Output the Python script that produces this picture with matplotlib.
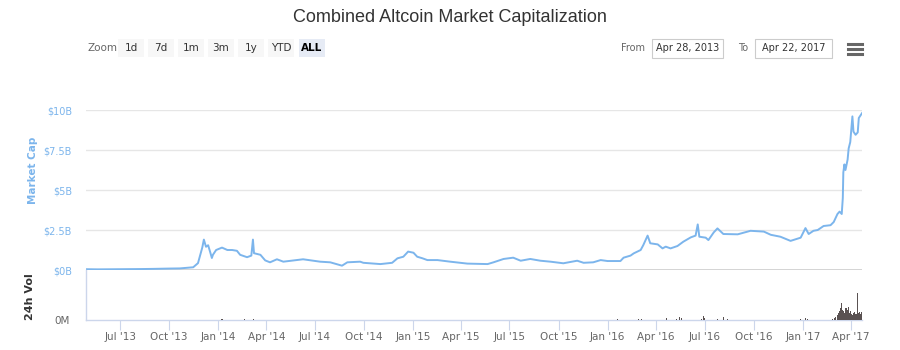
import matplotlib
matplotlib.use("Agg")
import matplotlib.pyplot as plt
from matplotlib.patches import Rectangle
import pandas as pd

# ---------------- data ----------------
cap_dates = [
    "2013-04-28", "2013-05-20", "2013-07-01", "2013-08-10", "2013-09-01", "2013-10-01",
    "2013-10-21", "2013-11-15", "2013-11-24", "2013-12-02", "2013-12-05", "2013-12-09",
    "2013-12-13", "2013-12-17", "2013-12-20", "2013-12-22", "2013-12-28", "2014-01-08",
    "2014-01-18", "2014-01-27", "2014-02-05", "2014-02-11", "2014-02-24", "2014-03-04",
    "2014-03-07", "2014-03-09", "2014-03-21", "2014-03-30", "2014-04-08", "2014-04-21",
    "2014-05-03", "2014-06-09", "2014-07-11", "2014-07-30", "2014-08-21", "2014-08-31",
    "2014-09-24", "2014-09-30", "2014-11-01", "2014-11-23", "2014-12-03", "2014-12-14",
    "2014-12-23", "2015-01-02", "2015-01-09", "2015-01-19", "2015-01-28", "2015-02-16",
    "2015-03-12", "2015-04-13", "2015-05-21", "2015-06-01", "2015-06-20", "2015-07-08",
    "2015-07-22", "2015-08-09", "2015-08-28", "2015-09-16", "2015-10-10", "2015-11-05",
    "2015-11-17", "2015-12-05", "2015-12-19", "2016-01-01", "2016-01-25", "2016-01-31",
    "2016-02-13", "2016-02-19", "2016-03-03", "2016-03-08", "2016-03-16", "2016-03-21",
    "2016-04-04", "2016-04-13", "2016-04-19", "2016-04-28", "2016-05-11", "2016-05-22",
    "2016-06-05", "2016-06-14", "2016-06-18", "2016-06-21", "2016-07-03", "2016-07-08",
    "2016-07-18", "2016-07-25", "2016-08-05", "2016-09-01", "2016-09-25", "2016-10-20",
    "2016-11-02", "2016-11-20", "2016-12-09", "2016-12-28", "2017-01-06", "2017-01-12",
    "2017-01-21", "2017-01-29", "2017-02-09", "2017-02-22", "2017-02-28", "2017-03-07",
    "2017-03-11", "2017-03-15", "2017-03-17", "2017-03-18", "2017-03-20", "2017-03-22",
    "2017-03-26", "2017-03-28", "2017-03-31", "2017-04-04", "2017-04-06", "2017-04-10",
    "2017-04-14", "2017-04-16", "2017-04-21", "2017-04-22",
]
cap_values = [  # billions USD
    0.05, 0.04, 0.05, 0.06, 0.07, 0.09,
    0.10, 0.17, 0.43, 1.40, 1.90, 1.45,
    1.55, 1.10, 0.75, 0.95, 1.25, 1.40,
    1.25, 1.25, 1.20, 0.95, 0.80, 0.90,
    1.90, 1.05, 0.95, 0.60, 0.48, 0.67,
    0.52, 0.67, 0.52, 0.48, 0.27, 0.48,
    0.52, 0.45, 0.37, 0.45, 0.73, 0.83,
    1.15, 1.08, 0.83, 0.73, 0.62, 0.62,
    0.52, 0.40, 0.37, 0.48, 0.69, 0.77,
    0.58, 0.69, 0.58, 0.52, 0.42, 0.58,
    0.45, 0.48, 0.62, 0.56, 0.56, 0.77,
    0.90, 1.04, 1.25, 1.56, 2.15, 1.67,
    1.60, 1.35, 1.46, 1.35, 1.50, 1.77,
    2.04, 2.15, 2.85, 2.08, 2.02, 1.87,
    2.35, 2.60, 2.25, 2.23, 2.45, 2.40,
    2.20, 2.08, 1.82, 2.02, 2.62, 2.25,
    2.45, 2.50, 2.75, 2.80, 3.00, 3.50,
    3.65, 3.50, 4.50, 6.10, 6.60, 6.25,
    6.90, 7.60, 8.00, 9.60, 8.65, 8.45,
    8.60, 9.50, 9.75, 9.80,
]

vol_dates = [
    "2014-01-08", "2014-02-20", "2014-03-08", "2016-01-20", "2016-02-28", "2016-03-05",
    "2016-04-20", "2016-05-10", "2016-05-14", "2016-05-18", "2016-06-25", "2016-06-28",
    "2016-07-01", "2016-07-25", "2016-08-05", "2016-08-12", "2016-12-28", "2017-01-06",
    "2017-01-10", "2017-02-25", "2017-03-01", "2017-03-04", "2017-03-07", "2017-03-09",
    "2017-03-11", "2017-03-13", "2017-03-15", "2017-03-17", "2017-03-19", "2017-03-21",
    "2017-03-23", "2017-03-25", "2017-03-27", "2017-03-29", "2017-03-31", "2017-04-02",
    "2017-04-04", "2017-04-06", "2017-04-08", "2017-04-10", "2017-04-12", "2017-04-14",
    "2017-04-16", "2017-04-18", "2017-04-20", "2017-04-22",
]
vol_values = [  # millions USD
    30, 25, 30, 40, 40, 50,
    80, 60, 140, 90, 60, 160,
    80, 50, 130, 60, 50, 80,
    60, 40, 80, 120, 200, 300,
    360, 500, 680, 420, 360, 300,
    480, 400, 520, 300, 360, 240,
    200, 300, 320, 260, 240, 1080,
    280, 320, 260, 320,
]

y_ticks = [0, 2.5, 5, 7.5, 10]
y_labels = ["$0B", "$2.5B", "$5B", "$7.5B", "$10B"]
x_tick_dates = ["2013-07-01", "2013-10-01", "2014-01-01", "2014-04-01", "2014-07-01",
                "2014-10-01", "2015-01-01", "2015-04-01", "2015-07-01", "2015-10-01",
                "2016-01-01", "2016-04-01", "2016-07-01", "2016-10-01", "2017-01-01",
                "2017-04-01"]
x_tick_labels = ["Jul '13", "Oct '13", "Jan '14", "Apr '14", "Jul '14", "Oct '14",
                 "Jan '15", "Apr '15", "Jul '15", "Oct '15", "Jan '16", "Apr '16",
                 "Jul '16", "Oct '16", "Jan '17", "Apr '17"]
zoom_buttons = ["1d", "7d", "1m", "3m", "1y", "YTD", "ALL"]
range_from = "Apr 28, 2013"
range_to = "Apr 22, 2017"

# ---------------- figure ----------------
W, H = 900, 350
plt.rcParams['font.family'] = ['DejaVu Sans']
fig = plt.figure(figsize=(9, 3.5), dpi=100)

def fx(px):
    return px / W

def fy(py):
    return 1 - py / H

LINE = "#7cb5ec"
GRID = "#e6e6e6"
AXIS = "#ccd6eb"

xmin = pd.Timestamp("2013-04-28")
xmax = pd.Timestamp("2017-04-22")
left, right = 86, 862

# upper panel
ax1 = fig.add_axes([fx(left), fy(270), fx(right - left), (270 - 110) / H])
d = pd.to_datetime(cap_dates)
ax1.plot(d, cap_values, color=LINE, lw=1.4, solid_joinstyle="round", zorder=3)
ax1.set_xlim(xmin, xmax)
ax1.set_ylim(0, 10)
ax1.set_yticks(y_ticks)
ax1.set_yticklabels(y_labels, color=LINE, fontsize=7)
ax1.tick_params(axis="y", length=0, pad=10)
ax1.tick_params(axis="x", length=0, labelbottom=False)
for yv in y_ticks[1:]:
    ax1.axhline(yv, color=GRID, lw=1, zorder=1)
for s in ax1.spines.values():
    s.set_visible(False)
ax1.set_facecolor("none")
ax1.axhline(0, color="#c8c8c8", lw=1.8, zorder=2)

# lower panel
vmax = 2000
ax2 = fig.add_axes([fx(left), fy(320), fx(right - left), 50 / H])
vd = pd.to_datetime(vol_dates)
ax2.bar(vd, vol_values, width=2.0, color="#5a5252", linewidth=0, zorder=3)
ax2.set_xlim(xmin, xmax)
ax2.set_ylim(0, vmax)
ax2.set_yticks([0])
ax2.set_yticklabels(["0M"], color="#666666", fontsize=7.5)
ax2.tick_params(axis="y", length=0, pad=12)
for k in ["top", "right"]:
    ax2.spines[k].set_visible(False)
ax2.spines["left"].set_color(AXIS)
ax2.spines["bottom"].set_color(AXIS)
ax2.spines["left"].set_linewidth(1)
ax2.spines["bottom"].set_linewidth(1)
ax2.set_xticks(pd.to_datetime(x_tick_dates))
ax2.set_xticklabels(x_tick_labels, color="#666666", fontsize=7.5)
ax2.tick_params(axis="x", length=7, color=AXIS, pad=2)
ax2.set_facecolor("none")

# axis titles
fig.text(fx(33), fy(170), "Market Cap", rotation=90, color=LINE, fontsize=7.5,
         fontweight="bold", ha="center", va="center")
fig.text(fx(30), fy(297), "24h Vol", rotation=90, color="#333333", fontsize=8,
         fontweight="bold", ha="center", va="center")

# title
fig.text(0.5, fy(17), "Combined Altcoin Market Capitalization", ha="center", va="center",
         fontsize=13, color="#333333", family="Liberation Sans")

# range selector
fig.text(fx(88), fy(48), "Zoom", color="#666666", fontsize=7.5, va="center", ha="left")
btn_x = [130, 160, 190, 220, 250, 280, 311]
for lbl, bx in zip(zoom_buttons, btn_x):
    sel = lbl == "ALL"
    fig.patches.append(Rectangle((fx(bx - 12), fy(57)), fx(26), 18 / H,
                                 transform=fig.transFigure,
                                 facecolor="#e6ebf5" if sel else "#f7f7f7",
                                 edgecolor="none"))
    fig.text(fx(bx + 1), fy(48), lbl, color="#000000" if sel else "#333333",
             fontsize=7.5, fontweight="bold" if sel else "normal", va="center", ha="center")

fig.text(fx(621), fy(48), "From", color="#666666", fontsize=7, va="center", ha="left")
fig.patches.append(Rectangle((fx(652), fy(58)), fx(71), 19 / H, transform=fig.transFigure,
                             facecolor="white", edgecolor="#cccccc", lw=0.8))
fig.text(fx(687.5), fy(48), range_from, color="#333333", fontsize=7, va="center", ha="center")
fig.text(fx(738), fy(48), "To", color="#666666", fontsize=7, va="center", ha="left")
fig.patches.append(Rectangle((fx(755), fy(58)), fx(77), 19 / H, transform=fig.transFigure,
                             facecolor="white", edgecolor="#cccccc", lw=0.8))
fig.text(fx(793.5), fy(48), range_to, color="#333333", fontsize=7, va="center", ha="center")

# menu icon
for yy in (44, 49, 54):
    fig.lines.append(plt.Line2D([fx(848), fx(862)], [fy(yy), fy(yy)], transform=fig.transFigure,
                                color="#666666", lw=2.2))

fig.savefig("out.png", dpi=100, facecolor="white")
